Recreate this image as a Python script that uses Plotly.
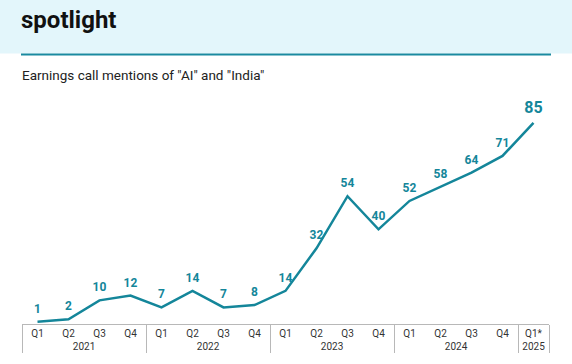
import plotly.graph_objects as go

years = ["2021"] * 4 + ["2022"] * 4 + ["2023"] * 4 + ["2024"] * 4 + ["2025"]
quarters = ["Q1", "Q2", "Q3", "Q4"] * 4 + ["Q1*"]
mentions = [1, 2, 10, 12, 7, 14, 7, 8, 14, 32, 54, 40, 52, 58, 64, 71, 85]

TEAL = "#14869a"
W, H = 572, 364
L, R, T, B = 22, 23, 111, 38
PW = W - L - R
PH = H - T - B


def px_x(px):
    return (px - L) / PW


def px_y(py):
    return (H - B - py) / PH


sizes = [12] * (len(mentions) - 1) + [16]

fig = go.Figure()
fig.add_trace(go.Scatter(
    x=[years, quarters],
    y=mentions,
    mode="lines+markers+text",
    line=dict(color=TEAL, width=2.5),
    marker=dict(size=8, color="rgba(0,0,0,0)"),
    text=[str(v) for v in mentions],
    textposition="top center",
    textfont=dict(family="Roboto", size=sizes, color=TEAL, weight="bold"),
    cliponaxis=False,
    hoverinfo="skip",
    showlegend=False,
))

fig.update_layout(
    width=W, height=H,
    margin=dict(l=L, r=R, t=T, b=B),
    paper_bgcolor="white",
    plot_bgcolor="white",
    font=dict(family="Roboto", color="#333333"),
    xaxis=dict(
        type="multicategory",
        showgrid=False,
        zeroline=False,
        showline=True,
        linecolor="#b8b8b8",
        linewidth=1,
        ticks="outside",
        ticklen=8,
        tickcolor="rgba(0,0,0,0)",
        tickfont=dict(family="Roboto", size=10, color="#333333"),
        showdividers=True,
        dividercolor="#b8b8b8",
        dividerwidth=1,
        range=[-0.5, 16.5],
        fixedrange=True,
    ),
    yaxis=dict(
        range=[0, 90],
        visible=False,
        fixedrange=True,
    ),
    shapes=[
        dict(type="rect", xref="paper", yref="paper",
             x0=-0.2, x1=1.2, y0=px_y(53), y1=px_y(-10),
             fillcolor="#e3f6fb", line=dict(width=0), layer="below"),
        dict(type="line", xref="paper", yref="paper",
             x0=px_x(21), x1=px_x(551), y0=px_y(54), y1=px_y(54),
             line=dict(color="#1a8aa0", width=2)),
    ],
    annotations=[
        dict(text="<b>spotlight</b>", xref="paper", yref="paper",
             x=px_x(19), y=px_y(19), xanchor="left", yanchor="middle",
             showarrow=False, font=dict(family="Roboto", size=24, color="#111111")),
        dict(text='Earnings call mentions of "AI" and "India"', xref="paper", yref="paper",
             x=px_x(20), y=px_y(75), xanchor="left", yanchor="middle",
             showarrow=False, font=dict(family="Roboto", size=13.5, color="#222222")),
    ],
)

fig.write_html("out.html", config={"displayModeBar": False},
               post_script="document.body.style.margin='0';")
